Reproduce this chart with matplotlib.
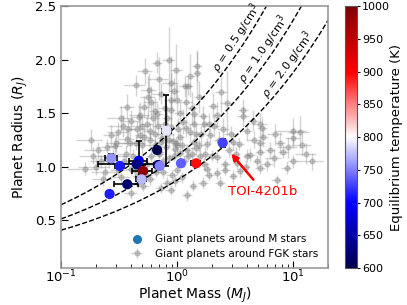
import numpy as np
import matplotlib
matplotlib.use('Agg')
import matplotlib.pyplot as plt

# ---------------- giant planets around M stars ----------------
m_mass = [0.271, 0.321, 0.468, 0.45, 0.673, 0.687, 0.709, 1.08, 1.46,
          0.51, 0.494, 0.372, 0.262, 0.81, 2.47]
m_radius = [1.077, 1.005, 1.054, 1.02, 1.154, 1.014, 1.005, 1.03, 1.03,
            0.958, 0.88, 0.834, 0.743, 1.335, 1.222]
m_merr = [0.03, 0.03, 0.08, 0.24, 0.04, 0.05, 0.04, 0.03, 0.13,
          0.10, 0.05, 0.085, 0.02, 0.07, 0.06]
m_rerr = [0.04, 0.02, 0.18, 0.03, 0.03, 0.03, 0.03, 0.02, 0.02,
          0.06, 0.03, 0.03, 0.02, 0.33, 0.035]
m_teq = [759, 712, 687, 633, 362, 604, 750, 737, 895,
         987, 772, 620, 711, 790, 725]

# ---------------- giant planets around FGK stars ----------------
fgk_mass = [0.53, 0.67, 0.85, 1.48, 1.48, 0.44, 0.88, 1.18, 1.25, 0.94,
            0.72, 0.52, 0.37, 1.00, 0.67, 0.88, 0.40, 0.33, 0.55, 1.39,
            1.69, 2.20, 2.68, 3.73, 4.54, 4.00, 5.20, 10.0, 10.0, 11.4,
            0.31, 0.37, 0.27, 0.48, 0.72, 1.07, 1.39, 1.93, 3.06, 1.39,
            0.88, 2.05, 1.68, 3.70, 5.40, 5.50, 5.20, 8.20, 10.0, 7.20,
            4.25, 3.27, 4.00, 4.86, 5.20, 6.30, 3.50, 3.05, 2.35, 2.20,
            5.20, 7.70, 8.80, 1.68, 1.38, 0.88, 0.82, 1.00, 1.81, 1.58,
            2.20, 1.22, 1.81, 0.51, 0.40, 0.59, 0.45, 0.23, 0.31, 0.29,
            0.21, 1.22, 0.60, 0.65, 0.80, 0.95, 1.10, 0.50, 0.42, 0.36,
            0.55, 0.75, 1.15, 1.30, 0.62, 0.78, 0.45, 1.60, 2.50, 2.80,
            0.26, 0.20, 0.18, 0.70, 0.58, 0.98, 1.05, 1.20, 0.34, 0.47,
            0.85, 1.45, 2.00, 0.63, 0.90, 1.70, 0.25, 3.40, 6.80, 9.00,
            13.0, 0.88, 0.56, 0.39, 1.35, 2.60, 0.76, 0.43, 1.90, 14.5,
            0.58, 0.68, 0.74, 0.82, 0.92, 1.02, 1.12, 0.64, 0.70, 0.86,
            0.96, 1.25, 1.45, 1.55, 1.75, 0.52, 0.44, 0.38, 0.30, 0.28,
            0.35, 0.48, 0.60, 0.78, 1.05, 1.20, 0.70, 0.57, 1.30, 0.98,
            2.30, 2.10, 2.90, 3.20, 2.60, 1.90, 1.10, 0.66, 0.54, 0.40,
            0.33, 0.24, 0.22, 0.19, 0.16, 0.46, 0.72, 0.96, 4.60, 3.90,
            6.00, 7.00, 12.0, 2.40, 1.55, 0.82, 0.65, 0.50, 1.00, 1.35]
fgk_radius = [1.89, 1.97, 2.00, 1.94, 1.87, 1.76, 1.78, 1.75, 1.75, 1.71,
              1.68, 1.56, 1.56, 1.62, 1.49, 1.53, 1.43, 1.45, 1.40, 1.49,
              1.40, 1.48, 1.59, 1.53, 1.43, 1.33, 1.40, 1.33, 1.27, 1.32,
              1.32, 1.26, 1.29, 1.29, 1.23, 1.28, 1.23, 1.29, 1.23, 1.40,
              1.37, 1.57, 1.47, 1.47, 1.36, 1.28, 1.14, 1.14, 1.05, 0.87,
              1.11, 1.03, 1.10, 1.05, 1.22, 1.15, 0.96, 0.91, 0.85, 0.94,
              0.99, 1.22, 0.99, 0.85, 0.82, 0.78, 0.85, 0.97, 0.98, 1.10,
              1.09, 1.15, 1.21, 0.82, 0.75, 0.88, 0.91, 0.88, 0.97, 1.19,
              1.15, 0.73, 1.10, 1.30, 1.18, 1.10, 1.20, 1.20, 1.10, 1.12,
              1.02, 1.05, 1.05, 1.32, 1.45, 1.40, 1.35, 1.30, 1.35, 1.15,
              1.05, 1.00, 1.25, 1.14, 1.25, 1.22, 1.13, 1.36, 1.38, 1.46,
              1.25, 1.17, 1.10, 1.02, 0.92, 1.02, 1.18, 1.21, 1.08, 1.18,
              1.12, 1.62, 1.65, 1.22, 1.55, 0.97, 0.95, 0.97, 1.40, 1.05,
              1.33, 1.38, 1.27, 1.30, 1.24, 1.35, 1.42, 1.20, 1.12, 1.08,
              1.16, 1.10, 1.30, 1.20, 1.12, 1.28, 1.22, 1.35, 1.22, 1.10,
              1.05, 1.48, 1.60, 1.55, 1.50, 1.60, 1.82, 1.72, 1.85, 1.90,
              1.25, 1.38, 1.30, 1.12, 1.02, 0.92, 0.90, 0.95, 0.92, 0.98,
              0.90, 0.95, 1.05, 1.10, 0.98, 0.85, 0.80, 0.86, 1.25, 1.00,
              1.02, 1.30, 1.20, 1.70, 1.65, 1.45, 1.52, 1.38, 1.20, 1.12]
fgk_mfrac = [0.15, 0.10, 0.12, 0.10, 0.08, 0.20, 0.15, 0.12, 0.10, 0.10,
             0.15, 0.12, 0.15, 0.10, 0.12, 0.10, 0.20, 0.25, 0.12, 0.08,
             0.10, 0.10, 0.12, 0.10, 0.10, 0.08, 0.15, 0.30, 0.15, 0.20,
             0.20, 0.15, 0.15, 0.10, 0.10, 0.08, 0.08, 0.08, 0.10, 0.10,
             0.10, 0.10, 0.10, 0.12, 0.10, 0.10, 0.10, 0.10, 0.10, 0.10,
             0.10, 0.08, 0.08, 0.08, 0.10, 0.10, 0.08, 0.08, 0.10, 0.08,
             0.10, 0.10, 0.10, 0.10, 0.08, 0.10, 0.10, 0.08, 0.08, 0.08,
             0.08, 0.08, 0.08, 0.12, 0.12, 0.10, 0.10, 0.20, 0.15, 0.15,
             0.25, 0.10, 0.10, 0.12, 0.08, 0.10, 0.10, 0.15, 0.20, 0.15,
             0.10, 0.08, 0.08, 0.10, 0.15, 0.10, 0.20, 0.10, 0.12, 0.10,
             0.20, 0.30, 0.25, 0.10, 0.12, 0.08, 0.10, 0.10, 0.25, 0.15,
             0.10, 0.10, 0.10, 0.15, 0.10, 0.10, 0.20, 0.10, 0.15, 0.20,
             0.20, 0.12, 0.15, 0.20, 0.10, 0.10, 0.10, 0.15, 0.10, 0.25,
             0.12, 0.10, 0.10, 0.15, 0.10, 0.08, 0.10, 0.12, 0.10, 0.10,
             0.08, 0.10, 0.12, 0.10, 0.10, 0.15, 0.20, 0.15, 0.20, 0.25,
             0.15, 0.20, 0.15, 0.12, 0.10, 0.15, 0.20, 0.15, 0.10, 0.12,
             0.10, 0.10, 0.12, 0.10, 0.10, 0.10, 0.08, 0.10, 0.12, 0.10,
             0.20, 0.25, 0.20, 0.25, 0.30, 0.15, 0.10, 0.10, 0.15, 0.10,
             0.12, 0.15, 0.20, 0.12, 0.10, 0.10, 0.12, 0.15, 0.10, 0.08]
fgk_rerr = [0.12, 0.10, 0.30, 0.15, 0.20, 0.10, 0.25, 0.10, 0.08, 0.12,
            0.10, 0.10, 0.12, 0.15, 0.10, 0.09, 0.10, 0.12, 0.08, 0.10,
            0.08, 0.12, 0.30, 0.10, 0.10, 0.08, 0.10, 0.12, 0.10, 0.15,
            0.10, 0.08, 0.10, 0.07, 0.06, 0.06, 0.06, 0.07, 0.08, 0.08,
            0.08, 0.12, 0.10, 0.10, 0.10, 0.10, 0.08, 0.06, 0.06, 0.05,
            0.06, 0.05, 0.06, 0.06, 0.08, 0.08, 0.06, 0.06, 0.06, 0.06,
            0.06, 0.10, 0.06, 0.05, 0.05, 0.05, 0.05, 0.05, 0.05, 0.06,
            0.06, 0.06, 0.06, 0.05, 0.05, 0.05, 0.05, 0.06, 0.06, 0.08,
            0.08, 0.05, 0.06, 0.10, 0.06, 0.05, 0.06, 0.08, 0.06, 0.08,
            0.05, 0.05, 0.05, 0.08, 0.15, 0.10, 0.08, 0.08, 0.10, 0.06,
            0.06, 0.08, 0.10, 0.05, 0.08, 0.06, 0.05, 0.08, 0.10, 0.12,
            0.06, 0.06, 0.05, 0.05, 0.05, 0.06, 0.08, 0.06, 0.08, 0.10,
            0.10, 0.25, 0.20, 0.10, 0.15, 0.05, 0.06, 0.06, 0.10, 0.08,
            0.08, 0.10, 0.06, 0.08, 0.06, 0.10, 0.12, 0.06, 0.05, 0.05,
            0.06, 0.05, 0.08, 0.06, 0.06, 0.08, 0.07, 0.10, 0.08, 0.06,
            0.06, 0.12, 0.15, 0.12, 0.10, 0.15, 0.20, 0.15, 0.20, 0.25,
            0.08, 0.10, 0.08, 0.06, 0.05, 0.05, 0.05, 0.05, 0.05, 0.06,
            0.05, 0.06, 0.06, 0.08, 0.06, 0.05, 0.05, 0.05, 0.08, 0.06,
            0.06, 0.10, 0.10, 0.20, 0.15, 0.10, 0.12, 0.08, 0.06, 0.06]

rho_values = [0.5, 1.0, 2.0]
rho_label_mass = [3.78, 6.46, 10.4]

rho_jup = 1.326  # g/cm^3

fig = plt.figure(figsize=(4.07, 3.05), dpi=100)
ax = fig.add_axes([0.150, 0.121, 0.656, 0.859])
cax = fig.add_axes([0.848, 0.121, 0.0295, 0.859])

ax.set_xscale('log')
ax.set_xlim(0.1, 20)
ax.set_ylim(0.05, 2.5)

# constant density curves
mgrid = np.logspace(-1, np.log10(20), 200)
for rho in rho_values:
    ax.plot(mgrid, (mgrid * rho_jup / rho) ** (1. / 3.), 'k--', lw=1, zorder=2)

# FGK
fgk_merr = np.array(fgk_mass) * np.array(fgk_mfrac)
ax.errorbar(fgk_mass, fgk_radius, xerr=fgk_merr, yerr=fgk_rerr, fmt='o', ms=3.5,
            color='grey', alpha=0.35, elinewidth=1, zorder=1,
            label='Giant planets around FGK stars')

# M dwarfs
ax.errorbar(m_mass, m_radius, xerr=m_merr, yerr=m_rerr, fmt='none', ecolor='k',
            elinewidth=1.2, capsize=2, capthick=1.2, zorder=3)
sc = ax.scatter(m_mass, m_radius, c=m_teq, cmap='seismic', vmin=600, vmax=1000,
                s=40, zorder=4)
mdum = ax.scatter([], [], color='#1f77b4', s=30, label='Giant planets around M stars')

# labels along curves
for rho, ml in zip(rho_values, rho_label_mass):
    r1 = (ml * rho_jup / rho) ** (1. / 3.)
    m2 = ml * 1.05
    r2 = (m2 * rho_jup / rho) ** (1. / 3.)
    p1 = ax.transData.transform((ml, r1))
    p2 = ax.transData.transform((m2, r2))
    ang = np.degrees(np.arctan2(p2[1] - p1[1], p2[0] - p1[0]))
    ax.text(ml, r1, r'$\rho$ = %.1f g/cm$^3$' % rho, rotation=ang,
            rotation_mode='anchor', ha='center', va='bottom', fontsize=8)

ax.annotate('TOI-4201b', xy=(2.83, 1.14), xytext=(5.5, 0.77), color='red',
            fontsize=9.5, ha='center', va='center',
            arrowprops=dict(arrowstyle='-|>', color='red', lw=1.8))

ax.set_xlabel('Planet Mass ($M_J$)', fontsize=10, labelpad=0)
ax.set_ylabel('Planet Radius ($R_J$)', fontsize=10)
ax.set_yticks([0.5, 1.0, 1.5, 2.0, 2.5])
ax.tick_params(which='both', direction='in', labelsize=9.5)
ax.tick_params(which='major', length=5)
ax.tick_params(which='minor', length=3)
ax.tick_params(axis='x', which='both', pad=0.5)
for s in ax.spines.values():
    s.set_color('#999999')
    s.set_linewidth(1.2)

ax.legend(handles=[mdum, ax.containers[0]], loc='lower right', frameon=False,
          fontsize=7.5)

cb = fig.colorbar(sc, cax=cax, ticks=range(600, 1001, 50))
cb.set_label('Equilibrium temperature (K)', fontsize=9.5, labelpad=0)
cb.ax.tick_params(labelsize=8, length=2, pad=1.5)
cb.outline.set_edgecolor('#555555')

plt.savefig('out.png', dpi=100)
